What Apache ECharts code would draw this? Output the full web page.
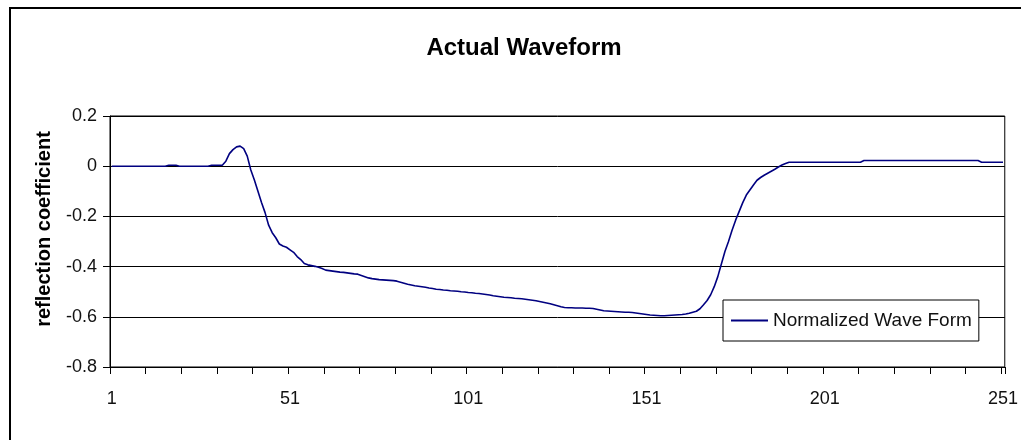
<!DOCTYPE html>
<html>
<head>
<meta charset="utf-8">
<script src="https://cdn.jsdelivr.net/npm/echarts@6/dist/echarts.min.js"></script>
<style>
html,body{margin:0;padding:0;background:#fff;}
#chart{width:1021px;height:440px;}
</style>
</head>
<body>
<div id="chart"></div>
<script>
// ---- data ----
var titleText = 'Actual Waveform';
var yAxisName = 'reflection coefficient';
var seriesName = 'Normalized Wave Form';
var sampleCount = 251;
var yTicks = [-0.8, -0.6, -0.4, -0.2, 0, 0.2];
var waveValues = [
  0,0,0,0,0,0,0,0,0,0,0,0,0,0,0,0,
  0.004,0.004,0.004,
  0,0,0,0,0,0,0,0,0,
  0.004,0.004,0.004,0.004,
  0.02,0.05,0.066,0.077,0.08,0.07,0.04,-0.015,
  -0.055,-0.1,-0.145,-0.185,-0.235,-0.265,-0.285,-0.31,-0.318,-0.323,
  -0.333,-0.343,-0.36,-0.372,-0.388,-0.393,-0.396,-0.399,-0.403,-0.408,
  -0.414,-0.416,-0.418,-0.42,-0.422,-0.423,-0.425,-0.427,-0.429,-0.43,
  -0.435,-0.44,-0.445,-0.448,-0.45,-0.452,-0.453,-0.454,-0.455,-0.456,
  -0.458,-0.462,-0.466,-0.47,-0.473,-0.476,-0.478,-0.48,-0.482,-0.485,
  -0.487,-0.49,-0.491,-0.493,-0.494,-0.496,-0.497,-0.498,-0.5,-0.501,
  -0.503,-0.504,-0.506,-0.507,-0.509,-0.511,-0.513,-0.516,-0.518,-0.52,
  -0.522,-0.523,-0.524,-0.526,-0.527,-0.528,-0.53,-0.532,-0.534,-0.536,
  -0.539,-0.542,-0.545,-0.548,-0.552,-0.556,-0.56,-0.563,-0.564,-0.564,
  -0.565,-0.565,-0.565,-0.566,-0.566,-0.567,-0.57,-0.573,-0.576,-0.577,
  -0.578,-0.579,-0.58,-0.581,-0.582,-0.582,-0.583,-0.585,-0.587,-0.589,
  -0.591,-0.593,-0.594,-0.595,-0.596,-0.596,-0.595,-0.594,-0.593,-0.592,
  -0.591,-0.589,-0.586,-0.582,-0.578,-0.568,-0.552,-0.535,-0.512,-0.48,
  -0.44,-0.39,-0.34,-0.3,-0.255,-0.215,-0.18,-0.145,-0.115,-0.095,
  -0.075,-0.056,-0.045,-0.036,-0.028,-0.02,-0.012,-0.003,0.005,0.011,
  0.016,0.016,0.016,0.016,0.016,0.016,0.016,0.016,0.016,0.016,
  0.016,0.016,0.016,0.016,0.016,0.016,0.016,0.016,0.016,0.016,0.016,
  0.023,0.023,0.023,0.023,0.023,0.023,0.023,0.023,0.023,0.023,
  0.023,0.023,0.023,0.023,0.023,0.023,0.023,0.023,0.023,0.023,
  0.023,0.023,0.023,0.023,0.023,0.023,0.023,0.023,0.023,0.023,
  0.023,0.023,0.023,
  0.016,0.016,0.016,0.016,0.016,0.016,0.016
];
var categories = [];
for (var i = 1; i <= sampleCount; i++) categories.push(String(i));

// ---- chart ----
var FONT = "'Liberation Sans', Arial, sans-serif";
var chart = echarts.init(document.getElementById('chart'), null, {renderer: 'canvas'});
chart.setOption({
  backgroundColor: '#ffffff',
  animation: false,
  title: {
    text: titleText,
    left: 519,
    top: 31,
    textAlign: 'center',
    textStyle: {fontFamily: FONT, fontSize: 24, fontWeight: 'bold', color: '#000'}
  },
  legend: {
    left: 723,
    top: 300,
    data: [{name: seriesName, icon: 'rect'}],
    itemWidth: 37,
    itemHeight: 2,
    itemGap: 4,
    padding: [11, 7, 11, 8],
    backgroundColor: '#ffffff',
    borderColor: '#000000',
    borderWidth: 1,
    textStyle: {fontFamily: FONT, fontSize: 19, color: '#111'}
  },
  grid: {
    left: 110, right: 13, top: 116, bottom: 73,
    show: true, borderColor: '#000', borderWidth: 1, backgroundColor: '#fff'
  },
  xAxis: {
    type: 'category',
    data: categories,
    boundaryGap: true,
    axisLine: {onZero: false, lineStyle: {color: '#000', width: 1}},
    axisTick: {show: true, interval: 9, length: 7, lineStyle: {color: '#000'}},
    axisLabel: {interval: 49, margin: 23, fontFamily: FONT, fontSize: 18, color: '#111'},
    splitLine: {show: false}
  },
  yAxis: {
    type: 'value',
    min: yTicks[0],
    max: yTicks[yTicks.length - 1],
    interval: 0.2,
    axisLine: {show: true, lineStyle: {color: '#000', width: 1}},
    axisTick: {show: true, length: 7, lineStyle: {color: '#000'}},
    axisLabel: {
      margin: 13, fontFamily: FONT, fontSize: 18, color: '#111',
      formatter: function (v) { return String(Math.round(v * 10) / 10); }
    },
    splitLine: {show: true, lineStyle: {color: '#000', width: 1}}
  },
  graphic: [
    {
      type: 'rect', silent: true, z: -10,
      shape: {x: 10, y: 8, width: 1040, height: 460},
      style: {fill: 'none', stroke: '#000', lineWidth: 2}
    },
    {
      type: 'text', silent: true,
      x: 44, y: 229, rotation: Math.PI / 2,
      style: {
        text: yAxisName, fontFamily: FONT, fontSize: 20, fontWeight: 'bold',
        fill: '#000', align: 'center', verticalAlign: 'middle'
      }
    }
  ],
  series: [{
    name: seriesName,
    type: 'line',
    data: waveValues,
    symbol: 'none',
    smooth: false,
    lineStyle: {color: '#000080', width: 1.6},
    itemStyle: {color: '#000080'}
  }]
});
</script>
</body>
</html>
